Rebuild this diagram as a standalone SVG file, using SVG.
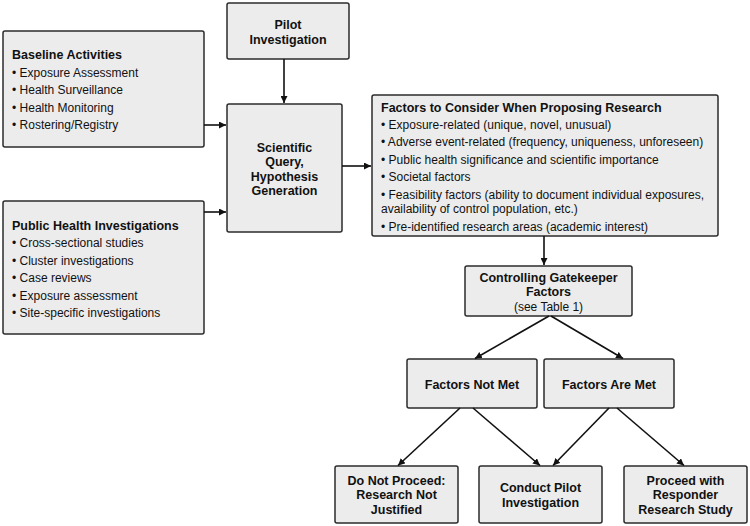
<svg xmlns="http://www.w3.org/2000/svg" width="750" height="526" viewBox="0 0 750 526">
<defs>
<marker id="ah" viewBox="0 0 10 10" refX="10" refY="5" markerWidth="7" markerHeight="7" markerUnits="userSpaceOnUse" orient="auto">
<path d="M0,0 L10,5 L0,10 z" fill="#111"/>
</marker>
<style>
.box{fill:#ececec;stroke:#2b2b2b;stroke-width:1.5}
text{font-family:"Liberation Sans",Arial,sans-serif;fill:#111}
.t{font-weight:bold;font-size:12.5px}
.i{font-size:12px}
.c{text-anchor:middle}
.ln{stroke:#111;stroke-width:1.6;fill:none;marker-end:url(#ah)}
</style>
</defs>
<rect width="750" height="526" fill="#fff"/>
<g id="pilot">
<rect class="box" x="227" y="3" width="122" height="56" rx="2"/>
<text class="t c" x="288" y="28.5">Pilot</text>
<text class="t c" x="288" y="43.5">Investigation</text>
</g>
<g id="baseline">
<rect class="box" x="3" y="31" width="201" height="116" rx="2"/>
<text class="t" x="12" y="58.5">Baseline Activities</text>
<text class="i" x="12" y="76.5">• Exposure Assessment</text>
<text class="i" x="12" y="94">• Health Surveillance</text>
<text class="i" x="12" y="111.5">• Health Monitoring</text>
<text class="i" x="12" y="129">• Rostering/Registry</text>
</g>
<g id="public">
<rect class="box" x="3" y="201" width="201" height="133" rx="2"/>
<text class="t" x="12" y="229.5">Public Health Investigations</text>
<text class="i" x="12" y="247">• Cross-sectional studies</text>
<text class="i" x="12" y="264.5">• Cluster investigations</text>
<text class="i" x="12" y="282">• Case reviews</text>
<text class="i" x="12" y="299.5">• Exposure assessment</text>
<text class="i" x="12" y="317">• Site-specific investigations</text>
</g>
<g id="query">
<rect class="box" x="227" y="104" width="115" height="128" rx="2"/>
<text class="t c" x="284.5" y="151.5">Scientific</text>
<text class="t c" x="284.5" y="166">Query,</text>
<text class="t c" x="284.5" y="180.5">Hypothesis</text>
<text class="t c" x="284.5" y="195">Generation</text>
</g>
<g id="factors">
<rect class="box" x="372" y="95" width="346" height="141" rx="2"/>
<text class="t" x="381" y="111.5">Factors to Consider When Proposing Research</text>
<text class="i" x="381" y="128.5">• Exposure-related (unique, novel, unusual)</text>
<text class="i" x="381" y="146">• Adverse event-related (frequency, uniqueness, unforeseen)</text>
<text class="i" x="381" y="163.5">• Public health significance and scientific importance</text>
<text class="i" x="381" y="181">• Societal factors</text>
<text class="i" x="381" y="198.5">• Feasibility factors (ability to document individual exposures,</text>
<text class="i" x="381" y="213">availability of control population, etc.)</text>
<text class="i" x="381" y="231">• Pre-identified research areas (academic interest)</text>
</g>
<g id="gatekeeper">
<rect class="box" x="465" y="266" width="167" height="50" rx="2"/>
<text class="t c" x="548.5" y="281.5">Controlling Gatekeeper</text>
<text class="t c" x="548.5" y="296">Factors</text>
<text class="i c" x="548.5" y="310.5">(see Table 1)</text>
</g>
<g id="notmet">
<rect class="box" x="407" y="359" width="130" height="49" rx="2"/>
<text class="t c" x="472" y="388.5">Factors Not Met</text>
</g>
<g id="met">
<rect class="box" x="544" y="359" width="130" height="49" rx="2"/>
<text class="t c" x="609" y="388.5">Factors Are Met</text>
</g>
<g id="donot">
<rect class="box" x="335" y="466" width="123" height="57" rx="2"/>
<text class="t c" x="396.5" y="484.5">Do Not Proceed:</text>
<text class="t c" x="396.5" y="499">Research Not</text>
<text class="t c" x="396.5" y="513.5">Justified</text>
</g>
<g id="conduct">
<rect class="box" x="479" y="466" width="123" height="57" rx="2"/>
<text class="t c" x="540.5" y="492">Conduct Pilot</text>
<text class="t c" x="540.5" y="506.5">Investigation</text>
</g>
<g id="proceed">
<rect class="box" x="624" y="466" width="123" height="57" rx="2"/>
<text class="t c" x="685.5" y="484.5">Proceed with</text>
<text class="t c" x="685.5" y="499">Responder</text>
<text class="t c" x="685.5" y="513.5">Research Study</text>
</g>
<g id="connectors">
<line class="ln" x1="284" y1="59" x2="284" y2="103"/>
<line class="ln" x1="204" y1="125" x2="226" y2="125"/>
<line class="ln" x1="204" y1="212" x2="226" y2="212"/>
<line class="ln" x1="342" y1="166" x2="371" y2="166"/>
<line class="ln" x1="544" y1="236" x2="544" y2="265"/>
<line class="ln" x1="549" y1="316" x2="475" y2="358.5"/>
<line class="ln" x1="551" y1="316" x2="623" y2="358.5"/>
<line class="ln" x1="460" y1="408" x2="398" y2="465.5"/>
<line class="ln" x1="473" y1="408" x2="540" y2="465.5"/>
<line class="ln" x1="609" y1="408" x2="553" y2="465.5"/>
<line class="ln" x1="617" y1="408" x2="684" y2="465.5"/>
</g>
</svg>
